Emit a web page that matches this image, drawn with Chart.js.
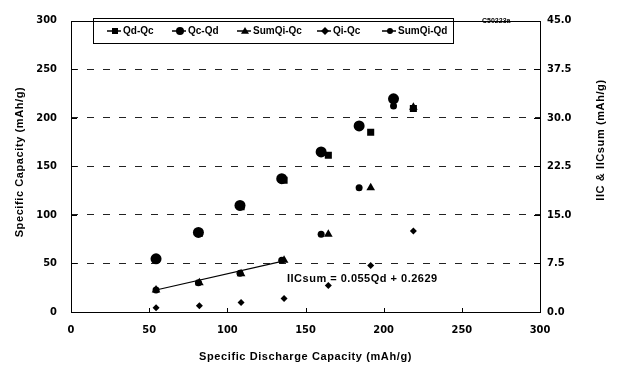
<!DOCTYPE html>
<html>
<head>
<meta charset="utf-8">
<script src="https://cdn.jsdelivr.net/npm/chart.js@4"></script>
<style>
  html, body { margin: 0; padding: 0; background: #fff; }
  #wrap { width: 619px; height: 369px; position: relative; }
</style>
</head>
<body>
<div id="wrap"><canvas id="capChart" width="619" height="369"></canvas></div>
<script>
// x positions (specific discharge capacity, mAh/g)
const qcX = [54.4, 81.5, 108.1, 134.8, 160, 184.3, 206.3];
const qdX = [54.4, 82.1, 108.8, 136.3, 164.6, 191.7, 219];

// left axis series (mAh/g)
const qdQc = [54, 81, 108.5, 135.6, 161.4, 185, 209.5];
const qcQd = [54.7, 81.9, 109.7, 137.3, 164.8, 191.6, 219.5];

// right axis series (IIC, mAh/g)
const sumQiQc = [3.4, 4.5, 5.9, 8.0, 12.0, 19.2, 31.6];
const qiQc = [0.66, 0.96, 1.47, 2.07, 4.08, 7.2, 12.5];
const sumQiQd = [3.4, 4.5, 6.0, 8.0, 12.0, 19.2, 31.8];

// trend line of IICsum
const fitX = [54.4, 136.3];
const fitY = [3.4, 7.9];

const xTicks = [0, 50, 100, 150, 200, 250, 300];
const yTicks = [0, 50, 100, 150, 200, 250, 300];
const y2Ticks = ["0.0", "7.5", "15.0", "22.5", "30.0", "37.5", "45.0"];

const seriesNames = ["Qd-Qc", "Qc-Qd", "SumQi-Qc", "Qi-Qc", "SumQi-Qd"];

function pts(xs, ys) {
  return xs.map((x, i) => ({ x: x, y: ys[i] }));
}

Chart.defaults.font.family = "'Liberation Sans Narrow', 'DejaVu Sans Condensed', 'Liberation Sans', sans-serif";
Chart.defaults.font.weight = "bold";
Chart.defaults.font.size = 11;
Chart.defaults.color = "#000";

function marker(ctx, style, x, y, r) {
  ctx.beginPath();
  if (style === "circle") {
    ctx.arc(x, y, r, 0, Math.PI * 2);
  } else if (style === "rect") {
    ctx.rect(x - r * 0.75, y - r * 0.75, r * 1.5, r * 1.5);
  } else if (style === "triangle") {
    ctx.moveTo(x, y - r);
    ctx.lineTo(x + r, y + r * 0.7);
    ctx.lineTo(x - r, y + r * 0.7);
    ctx.closePath();
  } else {
    ctx.moveTo(x, y - r);
    ctx.lineTo(x + r, y);
    ctx.lineTo(x, y + r);
    ctx.lineTo(x - r, y);
    ctx.closePath();
  }
  ctx.fill();
}

const extras = {
  id: "extras",
  afterDraw(chart) {
    const ctx = chart.ctx;
    const a = chart.chartArea;
    const sx = chart.scales.x, sy = chart.scales.y, sy2 = chart.scales.y2;
    ctx.save();
    ctx.strokeStyle = "#000";
    ctx.fillStyle = "#000";
    ctx.lineWidth = 1;
    ctx.setLineDash([]);
    // frame
    ctx.strokeRect(Math.round(a.left) + 0.5, Math.round(a.top) + 0.5,
      Math.round(a.right - a.left), Math.round(a.bottom - a.top));
    // inward tick marks
    ctx.beginPath();
    yTicks.forEach(v => {
      const y = Math.round(sy.getPixelForValue(v)) + 0.5;
      ctx.moveTo(a.left, y); ctx.lineTo(a.left + 6, y);
    });
    sy2.ticks.forEach(t => {
      const y = Math.round(sy2.getPixelForValue(t.value)) + 0.5;
      ctx.moveTo(a.right - 6, y); ctx.lineTo(a.right, y);
    });
    xTicks.forEach(v => {
      const x = Math.round(sx.getPixelForValue(v)) + 0.5;
      ctx.moveTo(x, a.bottom); ctx.lineTo(x, a.bottom - 4);
    });
    ctx.stroke();

    // legend box
    ctx.strokeRect(93.5, 18.5, 360, 25);
    const lx = [115, 180, 245, 325, 390];
    const styles = ["rect", "circle", "triangle", "rectRot", "circle"];
    ctx.font = "bold 10px 'Liberation Sans', sans-serif";
    ctx.textBaseline = "middle";
    ctx.textAlign = "left";
    lx.forEach((x, i) => {
      ctx.beginPath();
      ctx.lineWidth = 1.5;
      ctx.moveTo(x - 8, 31); ctx.lineTo(x + 6, 31);
      ctx.stroke();
      marker(ctx, styles[i], x, 31, i === 4 ? 3 : 4);
      ctx.fillText(seriesNames[i], x + 8, 31);
    });

    // sample code
    ctx.font = "bold 7px 'Liberation Sans', sans-serif";
    ctx.fillText("C50223a", 482, 21);

    // fit equation
    ctx.font = "bold 11px 'Liberation Sans', sans-serif";
    ctx.letterSpacing = "0.5px";
    ctx.fillText("IICsum = 0.055Qd + 0.2629", 287, 279);

    // axis titles
    ctx.textAlign = "center";
    ctx.letterSpacing = "0.6px";
    ctx.fillText("Specific Discharge Capacity (mAh/g)", (a.left + a.right) / 2, 357);
    ctx.save();
    ctx.translate(20, 162);
    ctx.rotate(-Math.PI / 2);
    ctx.fillText("Specific Capacity (mAh/g)", 0, 0);
    ctx.restore();
    ctx.save();
    ctx.translate(601, 140);
    ctx.rotate(-Math.PI / 2);
    ctx.fillText("IIC & IICsum (mAh/g)", 0, 0);
    ctx.restore();
    ctx.restore();
  }
};

new Chart("capChart", {
  type: "scatter",
  data: {
    datasets: [
      {
        label: seriesNames[0], data: pts(qdX, qdQc), yAxisID: "y",
        pointStyle: "rect", pointRadius: 5, backgroundColor: "#000", borderColor: "#000", borderWidth: 0
      },
      {
        label: seriesNames[1], data: pts(qcX, qcQd), yAxisID: "y",
        pointStyle: "circle", pointRadius: 5.5, backgroundColor: "#000", borderColor: "#000", borderWidth: 0
      },
      {
        label: seriesNames[2], data: pts(qdX, sumQiQc), yAxisID: "y2",
        pointStyle: "triangle", pointRadius: 5, backgroundColor: "#000", borderColor: "#000", borderWidth: 0
      },
      {
        label: seriesNames[3], data: pts(qdX, qiQc), yAxisID: "y2",
        pointStyle: "rectRot", pointRadius: 3.5, backgroundColor: "#000", borderColor: "#000", borderWidth: 0
      },
      {
        label: seriesNames[4], data: pts(qcX, sumQiQd), yAxisID: "y2",
        pointStyle: "circle", pointRadius: 3.5, backgroundColor: "#000", borderColor: "#000", borderWidth: 0
      },
      {
        label: "fit", data: pts(fitX, fitY), yAxisID: "y2", showLine: true,
        pointRadius: 0, borderColor: "#000", borderWidth: 1.2
      }
    ]
  },
  options: {
    responsive: false,
    animation: false,
    layout: { padding: { top: 14, left: 0, right: 0, bottom: 0 } },
    plugins: { legend: { display: false }, tooltip: { enabled: false } },
    scales: {
      x: {
        type: "linear", min: 0, max: 300,
        afterBuildTicks: s => { s.ticks = xTicks.map(v => ({ value: v })); },
        afterFit: s => { s.height = 57; },
        grid: { display: false, drawTicks: false },
        border: { display: false },
        ticks: { padding: 12 }
      },
      y: {
        position: "left", min: 0, max: 300,
        afterBuildTicks: s => { s.ticks = yTicks.map(v => ({ value: v })); },
        afterFit: s => { s.width = 71; },
        grid: {
          drawTicks: false,
          color: c => (c.tick && c.tick.value > 0 && c.tick.value < 300) ? "#222" : "rgba(0,0,0,0)"
        },
        border: { display: false, dash: [7, 9] },
        ticks: { padding: 14 }
      },
      y2: {
        position: "right", min: 0, max: 45,
        afterBuildTicks: s => { s.ticks = y2Ticks.map(v => ({ value: parseFloat(v) })); },
        afterFit: s => { s.width = 79; },
        grid: { display: false, drawTicks: false },
        border: { display: false },
        ticks: { padding: 7, callback: (v, i) => y2Ticks[i] }
      }
    }
  },
  plugins: [extras]
});
</script>
</body>
</html>
